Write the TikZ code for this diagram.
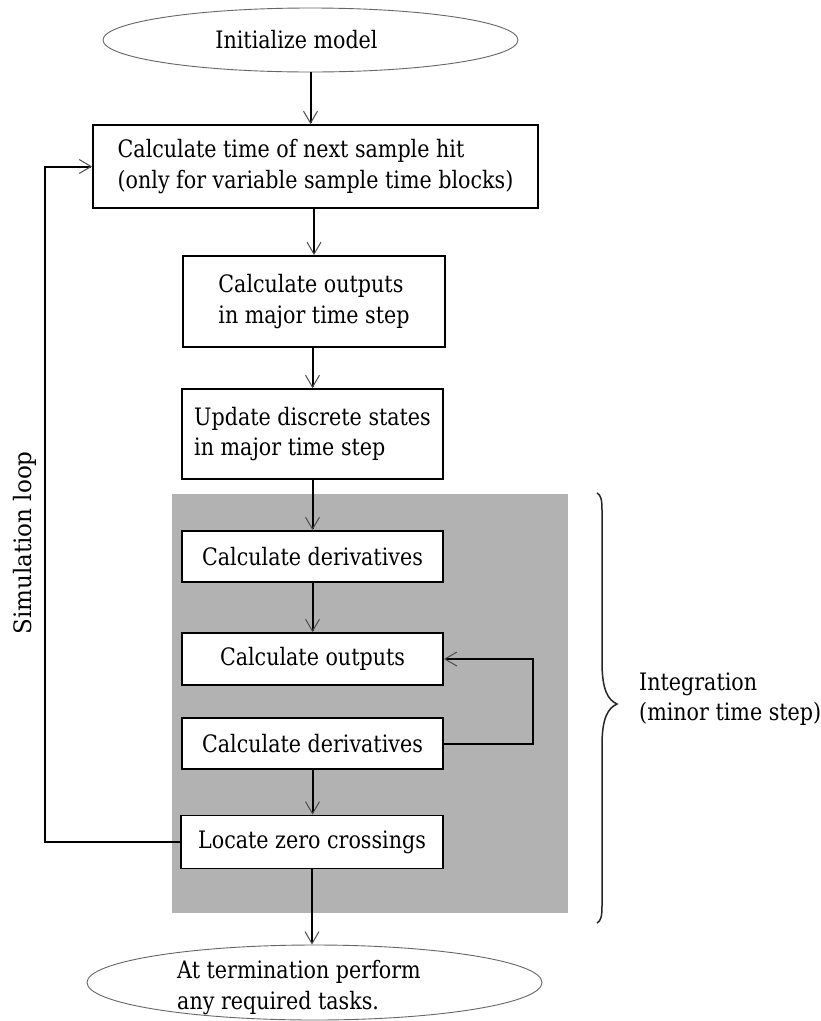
\documentclass[tikz,border=0pt]{standalone}
\usepackage{fontspec}
\setmainfont[FakeStretch=0.86]{DejaVu Serif}
\newfontfamily\loopfont[FakeStretch=0.96]{DejaVu Serif}
\usetikzlibrary{arrows.meta,shapes.geometric}
\begin{document}
\begin{tikzpicture}[x=1pt,y=-1pt,
  every node/.style={font=\fontsize{24}{30.5}\selectfont, inner sep=0pt},
  stepbox/.style={draw=black, line width=1.8pt, fill=white, align=left},
  terminal/.style={ellipse, draw=black!60, line width=0.9pt, fill=white},
  panel/.style={fill=black!30},
  flow/.style={line width=2pt,
    -{Straight Barb[length=12pt,width=14pt,line width=1pt,color=black!70]}},
  bracestyle/.style={line width=1.5pt, black!85}
]
\fill[white] (0,0) rectangle (821,1021);
\useasboundingbox (0,0) rectangle (821,1021);

% shaded integration region
\node[panel, minimum width=396pt, minimum height=419pt] (integ) at (370,703.5) {};

% start and end terminals
\node[terminal, minimum width=415pt, minimum height=64pt,
      label={[xshift=-14pt]center:Initialize model}] (init) at (310.5,40) {};
\node[terminal, minimum width=455pt, minimum height=75pt,
      label={[xshift=-15.5pt,yshift=-5pt,align=left]center:{At termination perform\\any required tasks.}}] (term) at (314.5,982.5) {};

% major time step blocks
\node[stepbox, minimum width=445pt, minimum height=83pt] (nexthit) at (315.5,166.5)
  {Calculate time of next sample hit\\(only for variable sample time blocks)};
\node[stepbox, minimum width=262pt, minimum height=91pt] (outmajor) at (314,301.5)
  {Calculate outputs\\in major time step};
\node[stepbox, minimum width=261pt, minimum height=90pt] (discrete) at (312.5,434)
  {Update discrete states\\in major time step};

% minor time step blocks
\node[stepbox, minimum width=261pt, minimum height=51pt] (deriv1) at (312.5,556.5) {Calculate derivatives};
\node[stepbox, minimum width=261pt, minimum height=52pt] (outminor) at (312.5,659) {Calculate outputs};
\node[stepbox, minimum width=261pt, minimum height=51pt] (deriv2) at (312.5,743.5) {Calculate derivatives};
\node[stepbox, minimum width=262pt, minimum height=53pt] (zeros) at (312,842) {Locate zero crossings};

% main flow
\draw[flow] (init.south) -- (init.south |- nexthit.north);
\draw[flow] (outmajor.north |- nexthit.south) -- (outmajor.north);
\draw[flow] (discrete.north |- outmajor.south) -- (discrete.north);
\draw[flow] (discrete.south) -- (discrete.south |- deriv1.north);
\draw[flow] (deriv1.south) -- (deriv1.south |- outminor.north);
\draw[flow] (deriv2.south) -- (deriv2.south |- zeros.north);
\draw[flow] (zeros.south) -- (zeros.south |- term.north);

% minor step iteration
\draw[flow] (deriv2.east) -- ++(89,0) |- (outminor.east);

% simulation loop back to the top
\coordinate (loopturn) at (45,166.5);
\draw[flow] (zeros.west) -| (loopturn) -- (nexthit.west);
\node[rotate=90, font=\loopfont\fontsize{24}{30}\selectfont] (looplabel) at (25,543) {Simulation loop};

% brace marking the integration part
\draw[bracestyle] (597,493) .. controls (601,495) and (602,500) .. (602,510)
  -- (602,662) .. controls (602,690) and (608,700) .. (617,704)
  .. controls (608,708) and (602,718) .. (602,745)
  -- (602,906) .. controls (602,916) and (601,921) .. (597,923);
\node[anchor=west, align=left] (intlabel) at (639,699) {Integration\\(minor time step)};
\end{tikzpicture}
\end{document}
